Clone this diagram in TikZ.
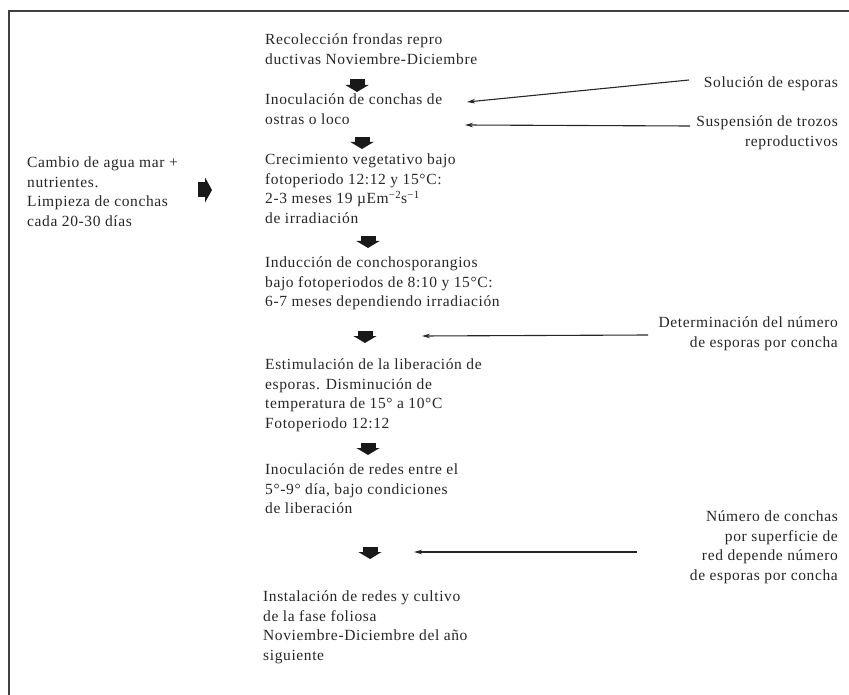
\documentclass[tikz,border=0pt]{standalone}
\usepackage{fontspec}
\setmainfont{Liberation Serif}[LetterSpace=4]
\usetikzlibrary{arrows.meta,calc}
\begin{document}
\begin{tikzpicture}[x=1pt,y=-1pt,
  txt/.style={inner sep=0pt,align=left,anchor=north west,text=black!85,
    font=\fontsize{15.5}{19.5}\selectfont},
  rtxt/.style={inner sep=0pt,align=right,anchor=north east,text=black!85,
    font=\fontsize{15.5}{19.5}\selectfont},
  blk/.style={line width=15pt,black!90,-{Triangle[length=7pt,width=23pt]}},
  blkr/.style={line width=15pt,black!90,-{Triangle[length=7pt,width=25pt]}},
  thinarr/.style={line width=1.1pt,black!85,-{Stealth[length=8pt,width=4.5pt]}}]
\useasboundingbox (0,0) rectangle (849,695);
% frame
\draw[line width=1.3pt,black!75] (9,695) -- (9,11) -- (849,11);
% central column
\node[txt] (A) at (265,31) {\strut Recolección frondas repro\\ductivas Noviembre-Diciembre};
\node[txt] (B) at (265,91) {\strut Inoculación de conchas de\\ostras o loco};
\node[txt] (C) at (265,151) {\strut Crecimiento vegetativo bajo\\fotoperiodo 12:12 y 15°C:\\2-3 meses 19 µEm\textsuperscript{−2}s\textsuperscript{−1}\\de irradiación};
\node[txt] (D) at (265,254) {\strut Inducción de conchosporangios\\bajo fotoperiodos de 8:10 y 15°C:\\6-7 meses dependiendo irradiación};
\node[txt] (E) at (265,356) {\strut Estimulación de la liberación de\\esporas. Disminución de\\temperatura de 15° a 10°C\\Fotoperiodo 12:12};
\node[txt] (F) at (265,461) {\strut Inoculación de redes entre el\\5°-9° día, bajo condiciones\\de liberación};
\node[txt] (G) at (263,588) {\strut Instalación de redes y cultivo\\de la fase foliosa\\Noviembre-Diciembre del año\\siguiente};
% left column
\node[txt] (L) at (27,154) {\strut Cambio de agua mar +\\nutrientes.\\Limpieza de conchas\\cada 20-30 días};
% right labels
\node[rtxt] (sol) at (838,74) {\strut Solución de esporas};
\node[rtxt] (sus) at (838,113) {\strut Suspensión de trozos\\reproductivos};
\node[rtxt] (det) at (838,314) {\strut Determinación del número\\de esporas por concha};
\node[rtxt] (num) at (838,508) {\strut Número de conchas\\por superficie de\\red depende número\\de esporas por concha};
% block arrows
\coordinate (b1s) at (357,79);  \coordinate (b1e) at (357,92);
\coordinate (b2s) at (362,137); \coordinate (b2e) at (362,149);
\coordinate (b3s) at (368,236); \coordinate (b3e) at (368,248);
\coordinate (b4s) at (365,331); \coordinate (b4e) at (365,343);
\coordinate (b5s) at (368,443); \coordinate (b5e) at (368,455);
\coordinate (b6s) at (370,547); \coordinate (b6e) at (370,559);
\coordinate (bls) at (198,190); \coordinate (ble) at (212,190);
\draw[blk] (b1s) -- (b1e);
\draw[blk] (b2s) -- (b2e);
\draw[blk] (b3s) -- (b3e);
\draw[blk] (b4s) -- (b4e);
\draw[blk] (b5s) -- (b5e);
\draw[blk] (b6s) -- (b6e);
\draw[blkr] (bls) -- (ble);
% thin arrows
\coordinate (t1) at (467,102);
\coordinate (t2) at (465,125);
\coordinate (t3) at (422,336);
\coordinate (t4) at (414,552);
\coordinate (s1) at (689,80);
\coordinate (s2) at (690,126);
\coordinate (s3) at (648,335);
\coordinate (s4) at (637,552);
\draw[thinarr] (s1) -- (t1);
\draw[thinarr] (s2) -- (t2);
\draw[thinarr] (s3) -- (t3);
\draw[thinarr] (s4) -- (t4);
\end{tikzpicture}
\end{document}
